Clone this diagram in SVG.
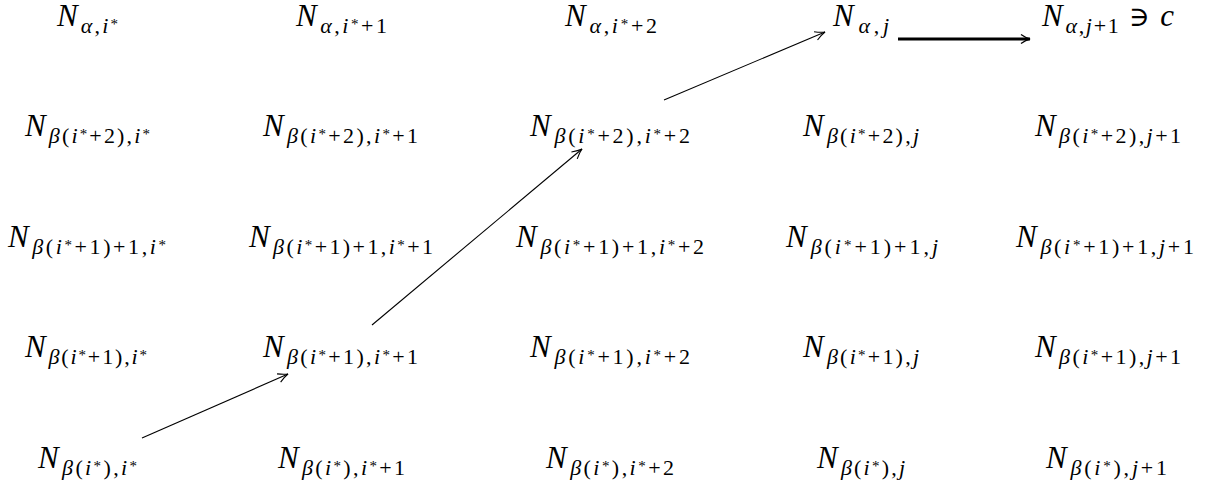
<svg xmlns="http://www.w3.org/2000/svg" width="1223" height="487" viewBox="0 0 1223 487">
<style>
text{font-family:"Liberation Serif","DejaVu Serif",serif;font-size:22px;fill:#000}
.N{font-size:31px;font-style:italic}
.i{font-style:italic}
.st{font-size:15px}
.e{fill:none;stroke:#000;stroke-width:1.1}
.thick{fill:none;stroke:#000;stroke-width:3}
</style>
<defs>
<marker id="ah" markerUnits="userSpaceOnUse" markerWidth="14" markerHeight="12" viewBox="-11 -6 12 12" refX="0" refY="0" orient="auto">
<path d="M-10,-4.5 Q-4,-1 0,0 Q-4,1 -10,4.5" fill="none" stroke="#000" stroke-width="1.1"/>
</marker>
<marker id="ah2" markerUnits="userSpaceOnUse" markerWidth="14" markerHeight="12" viewBox="-11 -6 12 12" refX="0" refY="0" orient="auto">
<path d="M-9,-4.5 Q-4,-1 0,0 Q-4,1 -9,4.5" fill="none" stroke="#000" stroke-width="1.3"/>
</marker>
</defs>

<g id="r0c0"><text x="57" y="26" textLength="61" lengthAdjust="spacing"><tspan class="N">N</tspan><tspan dx="1" dy="7"><tspan class="i">α</tspan>,<tspan class="i">i</tspan><tspan class="st" dy="-4">*</tspan></tspan></text></g>
<g id="r0c1"><text x="296" y="26" textLength="91" lengthAdjust="spacing"><tspan class="N">N</tspan><tspan dx="1" dy="7"><tspan class="i">α</tspan>,<tspan class="i">i</tspan><tspan class="st" dy="-4">*</tspan><tspan dy="4">+1</tspan></tspan></text></g>
<g id="r0c2"><text x="565" y="26" textLength="92" lengthAdjust="spacing"><tspan class="N">N</tspan><tspan dx="1" dy="7"><tspan class="i">α</tspan>,<tspan class="i">i</tspan><tspan class="st" dy="-4">*</tspan><tspan dy="4">+2</tspan></tspan></text></g>
<g id="r0c3"><text x="833" y="26" textLength="56" lengthAdjust="spacing"><tspan class="N">N</tspan><tspan dx="1" dy="7"><tspan class="i">α</tspan>,<tspan class="i">j</tspan></tspan></text></g>
<g id="r0c4"><text x="1042" y="26" textLength="132" lengthAdjust="spacing"><tspan class="N">N</tspan><tspan dx="1" dy="7"><tspan class="i">α</tspan>,<tspan class="i">j</tspan>+1</tspan><tspan dy="-7" font-size="28px"> ∋ </tspan><tspan class="N">c</tspan></text></g>

<g id="r1c0"><text x="25" y="136" textLength="125" lengthAdjust="spacing"><tspan class="N">N</tspan><tspan dx="1" dy="7"><tspan class="i">β</tspan>(<tspan class="i">i</tspan><tspan class="st" dy="-4">*</tspan><tspan dy="4">+2),</tspan><tspan class="i">i</tspan><tspan class="st" dy="-4">*</tspan></tspan></text></g>
<g id="r1c1"><text x="263" y="136" textLength="155" lengthAdjust="spacing"><tspan class="N">N</tspan><tspan dx="1" dy="7"><tspan class="i">β</tspan>(<tspan class="i">i</tspan><tspan class="st" dy="-4">*</tspan><tspan dy="4">+2),</tspan><tspan class="i">i</tspan><tspan class="st" dy="-4">*</tspan><tspan dy="4">+1</tspan></tspan></text></g>
<g id="r1c2"><text x="530" y="136" textLength="160" lengthAdjust="spacing"><tspan class="N">N</tspan><tspan dx="1" dy="7"><tspan class="i">β</tspan>(<tspan class="i">i</tspan><tspan class="st" dy="-4">*</tspan><tspan dy="4">+2),</tspan><tspan class="i">i</tspan><tspan class="st" dy="-4">*</tspan><tspan dy="4">+2</tspan></tspan></text></g>
<g id="r1c3"><text x="803" y="136" textLength="116" lengthAdjust="spacing"><tspan class="N">N</tspan><tspan dx="1" dy="7"><tspan class="i">β</tspan>(<tspan class="i">i</tspan><tspan class="st" dy="-4">*</tspan><tspan dy="4">+2),</tspan><tspan class="i">j</tspan></tspan></text></g>
<g id="r1c4"><text x="1035" y="136" textLength="146" lengthAdjust="spacing"><tspan class="N">N</tspan><tspan dx="1" dy="7"><tspan class="i">β</tspan>(<tspan class="i">i</tspan><tspan class="st" dy="-4">*</tspan><tspan dy="4">+2),</tspan><tspan class="i">j</tspan>+1</tspan></text></g>

<g id="r2c0"><text x="8" y="247" textLength="158" lengthAdjust="spacing"><tspan class="N">N</tspan><tspan dx="1" dy="7"><tspan class="i">β</tspan>(<tspan class="i">i</tspan><tspan class="st" dy="-4">*</tspan><tspan dy="4">+1)+1,</tspan><tspan class="i">i</tspan><tspan class="st" dy="-4">*</tspan></tspan></text></g>
<g id="r2c1"><text x="249" y="247" textLength="184" lengthAdjust="spacing"><tspan class="N">N</tspan><tspan dx="1" dy="7"><tspan class="i">β</tspan>(<tspan class="i">i</tspan><tspan class="st" dy="-4">*</tspan><tspan dy="4">+1)+1,</tspan><tspan class="i">i</tspan><tspan class="st" dy="-4">*</tspan><tspan dy="4">+1</tspan></tspan></text></g>
<g id="r2c2"><text x="516" y="247" textLength="188" lengthAdjust="spacing"><tspan class="N">N</tspan><tspan dx="1" dy="7"><tspan class="i">β</tspan>(<tspan class="i">i</tspan><tspan class="st" dy="-4">*</tspan><tspan dy="4">+1)+1,</tspan><tspan class="i">i</tspan><tspan class="st" dy="-4">*</tspan><tspan dy="4">+2</tspan></tspan></text></g>
<g id="r2c3"><text x="786" y="247" textLength="152" lengthAdjust="spacing"><tspan class="N">N</tspan><tspan dx="1" dy="7"><tspan class="i">β</tspan>(<tspan class="i">i</tspan><tspan class="st" dy="-4">*</tspan><tspan dy="4">+1)+1,</tspan><tspan class="i">j</tspan></tspan></text></g>
<g id="r2c4"><text x="1016" y="247" textLength="178" lengthAdjust="spacing"><tspan class="N">N</tspan><tspan dx="1" dy="7"><tspan class="i">β</tspan>(<tspan class="i">i</tspan><tspan class="st" dy="-4">*</tspan><tspan dy="4">+1)+1,</tspan><tspan class="i">j</tspan>+1</tspan></text></g>

<g id="r3c0"><text x="25" y="357" textLength="122" lengthAdjust="spacing"><tspan class="N">N</tspan><tspan dx="1" dy="7"><tspan class="i">β</tspan>(<tspan class="i">i</tspan><tspan class="st" dy="-4">*</tspan><tspan dy="4">+1),</tspan><tspan class="i">i</tspan><tspan class="st" dy="-4">*</tspan></tspan></text></g>
<g id="r3c1"><text x="263" y="357" textLength="155" lengthAdjust="spacing"><tspan class="N">N</tspan><tspan dx="1" dy="7"><tspan class="i">β</tspan>(<tspan class="i">i</tspan><tspan class="st" dy="-4">*</tspan><tspan dy="4">+1),</tspan><tspan class="i">i</tspan><tspan class="st" dy="-4">*</tspan><tspan dy="4">+1</tspan></tspan></text></g>
<g id="r3c2"><text x="530" y="357" textLength="160" lengthAdjust="spacing"><tspan class="N">N</tspan><tspan dx="1" dy="7"><tspan class="i">β</tspan>(<tspan class="i">i</tspan><tspan class="st" dy="-4">*</tspan><tspan dy="4">+1),</tspan><tspan class="i">i</tspan><tspan class="st" dy="-4">*</tspan><tspan dy="4">+2</tspan></tspan></text></g>
<g id="r3c3"><text x="803" y="357" textLength="116" lengthAdjust="spacing"><tspan class="N">N</tspan><tspan dx="1" dy="7"><tspan class="i">β</tspan>(<tspan class="i">i</tspan><tspan class="st" dy="-4">*</tspan><tspan dy="4">+1),</tspan><tspan class="i">j</tspan></tspan></text></g>
<g id="r3c4"><text x="1035" y="357" textLength="146" lengthAdjust="spacing"><tspan class="N">N</tspan><tspan dx="1" dy="7"><tspan class="i">β</tspan>(<tspan class="i">i</tspan><tspan class="st" dy="-4">*</tspan><tspan dy="4">+1),</tspan><tspan class="i">j</tspan>+1</tspan></text></g>

<g id="r4c0"><text x="38" y="468" textLength="99" lengthAdjust="spacing"><tspan class="N">N</tspan><tspan dx="1" dy="7"><tspan class="i">β</tspan>(<tspan class="i">i</tspan><tspan class="st" dy="-4">*</tspan><tspan dy="4">),</tspan><tspan class="i">i</tspan><tspan class="st" dy="-4">*</tspan></tspan></text></g>
<g id="r4c1"><text x="278" y="468" textLength="127" lengthAdjust="spacing"><tspan class="N">N</tspan><tspan dx="1" dy="7"><tspan class="i">β</tspan>(<tspan class="i">i</tspan><tspan class="st" dy="-4">*</tspan><tspan dy="4">),</tspan><tspan class="i">i</tspan><tspan class="st" dy="-4">*</tspan><tspan dy="4">+1</tspan></tspan></text></g>
<g id="r4c2"><text x="546" y="468" textLength="128" lengthAdjust="spacing"><tspan class="N">N</tspan><tspan dx="1" dy="7"><tspan class="i">β</tspan>(<tspan class="i">i</tspan><tspan class="st" dy="-4">*</tspan><tspan dy="4">),</tspan><tspan class="i">i</tspan><tspan class="st" dy="-4">*</tspan><tspan dy="4">+2</tspan></tspan></text></g>
<g id="r4c3"><text x="817" y="468" textLength="88" lengthAdjust="spacing"><tspan class="N">N</tspan><tspan dx="1" dy="7"><tspan class="i">β</tspan>(<tspan class="i">i</tspan><tspan class="st" dy="-4">*</tspan><tspan dy="4">),</tspan><tspan class="i">j</tspan></tspan></text></g>
<g id="r4c4"><text x="1046" y="468" textLength="121" lengthAdjust="spacing"><tspan class="N">N</tspan><tspan dx="1" dy="7"><tspan class="i">β</tspan>(<tspan class="i">i</tspan><tspan class="st" dy="-4">*</tspan><tspan dy="4">),</tspan><tspan class="i">j</tspan>+1</tspan></text></g>

<g id="connectors">
<line class="e" x1="142" y1="438" x2="288" y2="374" marker-end="url(#ah)"/>
<line class="e" x1="372" y1="325" x2="582" y2="149" marker-end="url(#ah)"/>
<line class="e" x1="664" y1="100" x2="825" y2="32" marker-end="url(#ah)"/>
<line class="thick" x1="898" y1="39" x2="1030" y2="39" marker-end="url(#ah2)"/>
</g>
</svg>
